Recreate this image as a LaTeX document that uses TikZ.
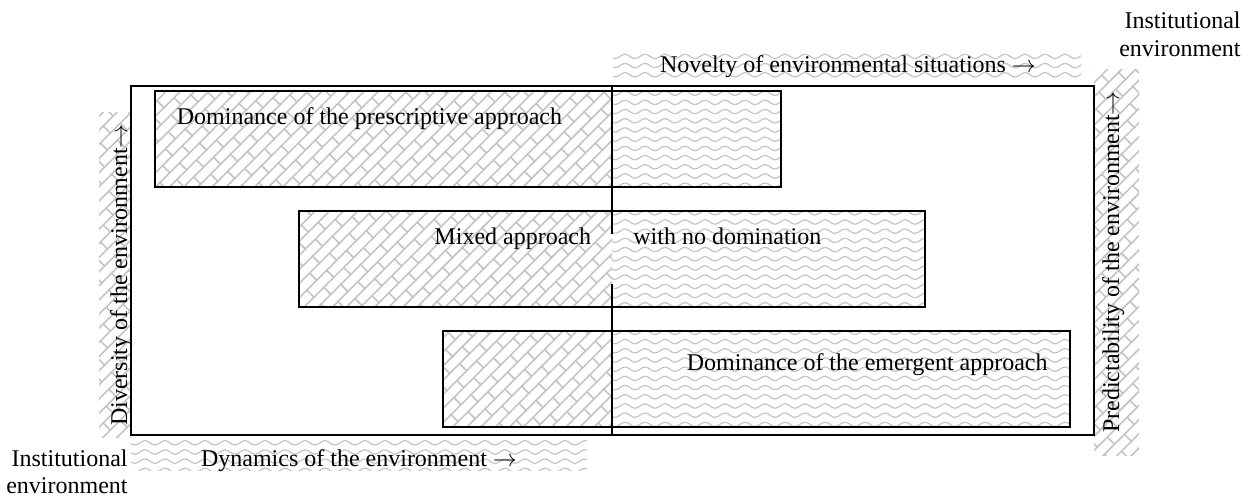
\documentclass[tikz,border=0pt]{standalone}
\usepackage{fontspec}
\setmainfont{Liberation Serif}
\usetikzlibrary{patterns.meta}
\definecolor{patgray}{HTML}{C4C4C4}

\tikzdeclarepattern{
  name=diagbrick, type=uncolored,
  bottom left={(-0.5pt,-0.5pt)}, top right={(14.5pt,10.5pt)},
  tile size={(14pt,10pt)},
  tile transformation={rotate=45},
  code={
    \draw[line width=0.8pt] (-0.5pt,0pt) -- (14.5pt,0pt) (-0.5pt,5pt) -- (14.5pt,5pt)
      (0pt,0pt) -- (0pt,5pt) (7pt,5pt) -- (7pt,10pt);
  }
}
\tikzdeclarepattern{
  name=wavelines, type=uncolored,
  bottom left={(-0.5pt,-1.5pt)}, top right={(10.5pt,1.5pt)},
  tile size={(10pt,4.6pt)},
  code={
    \draw[line width=0.6pt] (0pt,0pt) sin (2.5pt,1.1pt) cos (5pt,0pt) sin (7.5pt,-1.1pt) cos (10pt,0pt);
  }
}

\begin{document}
\begin{tikzpicture}[x=0.5pt, y=-0.5pt, font=\fontsize{12}{14}\selectfont,
    brickfill/.style={pattern=diagbrick, pattern color=patgray},
    wavefill/.style={pattern=wavelines, pattern color=patgray},
    boxline/.style={draw, line width=1pt},
    lbl/.style={inner sep=0pt}]
    \useasboundingbox (0,0) rectangle (1255,498);
    % axis bands
    \fill[brickfill] (99,112) rectangle (131,437);
    \fill[brickfill] (1094,69) rectangle (1139,455);
    \fill[wavefill] (613,52) rectangle (1081,79);
    \fill[wavefill] (131,440) rectangle (587,470);

    \coordinate (midTop) at (612,86);
    \coordinate (midBot) at (612,435);
    \coordinate (gapTop) at (612,234);
    \coordinate (gapBot) at (612,284);

    \fill[brickfill] (155,91) rectangle (612,187);
    \fill[wavefill] (612,91) rectangle (781,187);
    \fill[brickfill] (299,211) rectangle (612,307);
    \fill[wavefill] (612,211) rectangle (925,307);
    \fill[brickfill] (443,331) rectangle (612,427);
    \fill[wavefill] (612,331) rectangle (1070,427);

    \draw[boxline] (131,86) rectangle (1094,435)
        (155,91) rectangle (781,187)
        (299,211) rectangle (925,307)
        (443,331) rectangle (1070,427);
    \draw[boxline] (midTop) -- (gapTop) (gapBot) -- (midBot);

    \node[lbl, anchor=base west] (txtPres) at (176.5,124.5) {Dominance of the prescriptive approach};
    \node[lbl, anchor=base east] (txtMix) at (591.5,244) {Mixed approach};
    \node[lbl, anchor=base west] (txtNoDom) at (633,244) {with no domination};
    \node[lbl, anchor=base east] (txtEmer) at (1048,370) {Dominance of the emergent approach};

    \node[lbl, anchor=base] (txtNovelty) at (848,72) {Novelty of environmental situations $\rightarrow$};
    \node[lbl, anchor=base] (txtDynamics) at (359,466) {Dynamics of the environment $\rightarrow$};
    \node[lbl, anchor=base, rotate=90] (txtDiversity) at (127,275) {Diversity of the environment$\rightarrow$};
    \node[lbl, anchor=base, rotate=90] (txtPredict) at (1119,262) {Predictability of the environment$\rightarrow$};

    \node[lbl, anchor=base east] (instLowA) at (128,466) {Institutional};
    \node[lbl, anchor=base east] (instLowB) at (128,493) {environment};
    \node[lbl, anchor=base east] (instTopA) at (1241,28) {Institutional};
    \node[lbl, anchor=base east] (instTopB) at (1241,56) {environment};
\end{tikzpicture}
\end{document}
